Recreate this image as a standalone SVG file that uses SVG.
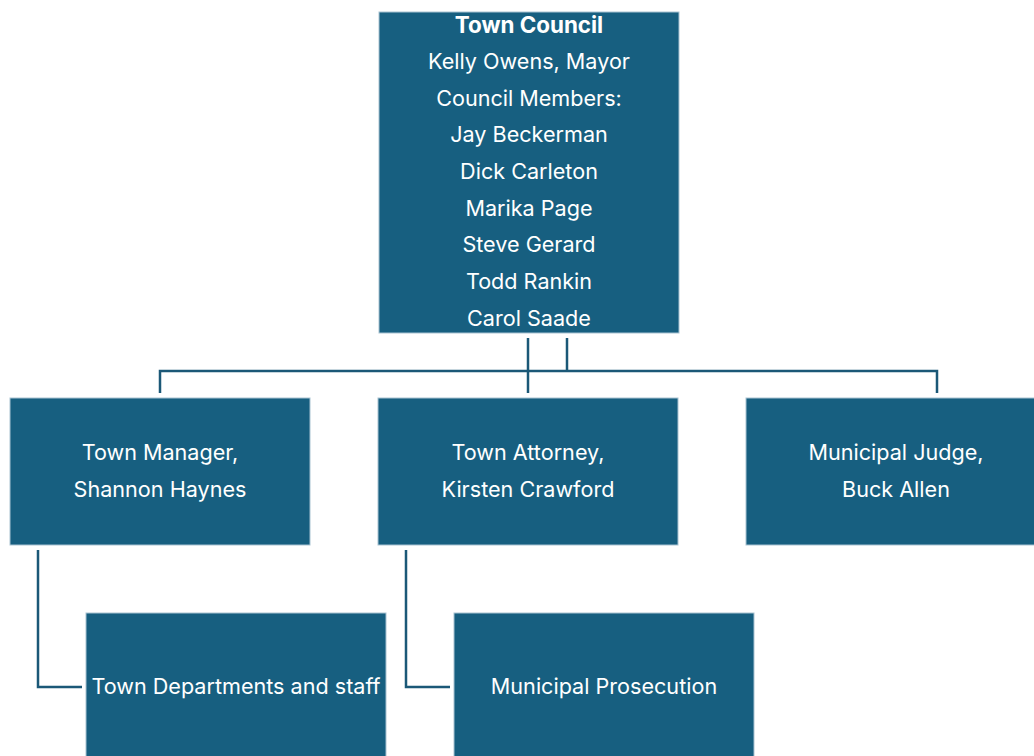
<svg xmlns="http://www.w3.org/2000/svg" width="1034" height="756" viewBox="0 0 1034 756">
<style>
.box{fill:#175f80;stroke:#a9c3d2;stroke-width:1}
.t{font-family:Inter,"Open Sans","Liberation Sans",sans-serif;font-size:21.6px;fill:#ffffff;text-anchor:middle}
.b{font-weight:bold;font-size:22.4px}
.c{fill:none;stroke:#1b5877;stroke-width:2.5}
</style>
<rect width="1034" height="756" fill="#ffffff"/>
<g id="connectors">
<path class="c" d="M528 338V393"/>
<path class="c" d="M567 338V371"/>
<path class="c" d="M160 393V371H937V393"/>
<path class="c" d="M38 550V687H82"/>
<path class="c" d="M406 550V687H450"/>
</g>
<g id="council">
<rect class="box" x="379" y="12" width="300" height="321"/>
<text class="t b" x="529" y="33">Town Council</text>
<text class="t" x="529" y="69">Kelly Owens, Mayor</text>
<text class="t" x="529" y="106">Council Members:</text>
<text class="t" x="529" y="142">Jay Beckerman</text>
<text class="t" x="529" y="179">Dick Carleton</text>
<text class="t" x="529" y="216">Marika Page</text>
<text class="t" x="529" y="252">Steve Gerard</text>
<text class="t" x="529" y="289">Todd Rankin</text>
<text class="t" x="529" y="326">Carol Saade</text>
</g>
<g id="manager">
<rect class="box" x="10" y="398" width="300" height="147"/>
<text class="t" x="160" y="460">Town Manager,</text>
<text class="t" x="160" y="497">Shannon Haynes</text>
</g>
<g id="attorney">
<rect class="box" x="378" y="398" width="300" height="147"/>
<text class="t" x="528" y="460">Town Attorney,</text>
<text class="t" x="528" y="497">Kirsten Crawford</text>
</g>
<g id="judge">
<rect class="box" x="746" y="398" width="300" height="147"/>
<text class="t" x="896" y="460">Municipal Judge,</text>
<text class="t" x="896" y="497">Buck Allen</text>
</g>
<g id="departments">
<rect class="box" x="86" y="613" width="300" height="150"/>
<text class="t" x="236" y="694">Town Departments and staff</text>
</g>
<g id="prosecution">
<rect class="box" x="454" y="613" width="300" height="150"/>
<text class="t" x="604" y="694">Municipal Prosecution</text>
</g>
</svg>
